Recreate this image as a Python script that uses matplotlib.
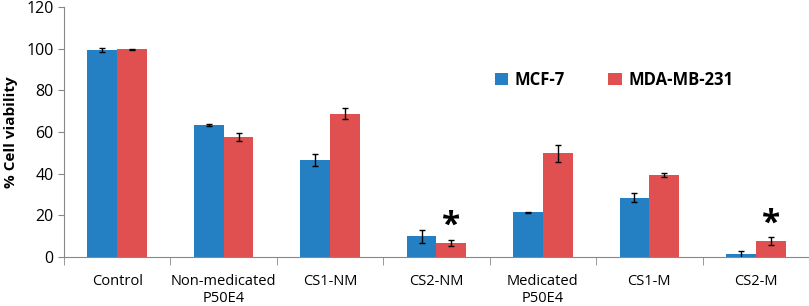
import numpy as np
import matplotlib
matplotlib.use('Agg')
import matplotlib.pyplot as plt

plt.rcParams['font.family'] = ['Open Sans', 'DejaVu Sans']

categories = ['Control', 'Non-medicated\nP50E4', 'CS1-NM', 'CS2-NM',
              'Medicated\nP50E4', 'CS1-M', 'CS2-M']
mcf7 = [99.4, 63.4, 46.6, 9.9, 21.5, 28.5, 1.4]
mcf7_err = [1.0, 0.3, 3.0, 3.3, 0.3, 2.3, 1.7]
mda = [99.7, 57.6, 68.8, 6.9, 49.7, 39.3, 7.7]
mda_err = [0.3, 1.9, 2.6, 1.4, 3.9, 1.0, 1.8]
star_idx = [3, 6]

blue = '#2580c3'
red = '#e05050'

fig = plt.figure(figsize=(8.09, 3.06), dpi=100)
ax = fig.add_axes([64/809, 49/306, 745/809, 250/306])

x = np.arange(len(categories))
w = 0.28
ax.bar(x - w/2, mcf7, w, color=blue, yerr=mcf7_err, capsize=2.5,
       error_kw=dict(elinewidth=1, capthick=1, ecolor='black'), label='MCF-7')
ax.bar(x + w/2, mda, w, color=red, yerr=mda_err, capsize=2.5,
       error_kw=dict(elinewidth=1, capthick=1, ecolor='black'), label='MDA-MB-231')

for i in star_idx:
    ax.text(x[i] + w/2, mda[i] + mda_err[i] - 1.5, '*', ha='center', va='bottom',
            fontsize=24, fontweight='bold')

ax.set_xlim(-0.5, len(categories) - 0.5)
ax.set_ylim(0, 120)
ax.set_yticks(range(0, 121, 20))
ax.tick_params(axis='y', labelsize=11.5, length=4, color='#888888')
ax.set_xticks(x)
ax.set_xticklabels(categories, fontsize=10.5)
ax.tick_params(axis='x', length=0, pad=12)
ax.set_xticks(np.arange(-0.5, len(categories), 1), minor=True)
ax.tick_params(axis='x', which='minor', length=6, color='#888888')
ax.set_ylabel('% Cell viability', fontsize=11, fontweight='bold', labelpad=6)

for s in ['top', 'right']:
    ax.spines[s].set_visible(False)
for s in ['left', 'bottom']:
    ax.spines[s].set_color('#888888')

ax.legend(loc='upper left', bbox_to_anchor=(0.558, 0.805), ncol=2, frameon=False,
          prop={'weight': 'bold', 'size': 12}, handlelength=0.8, handleheight=0.8,
          columnspacing=2.6, handletextpad=0.4)

fig.savefig('out.png', dpi=100)
